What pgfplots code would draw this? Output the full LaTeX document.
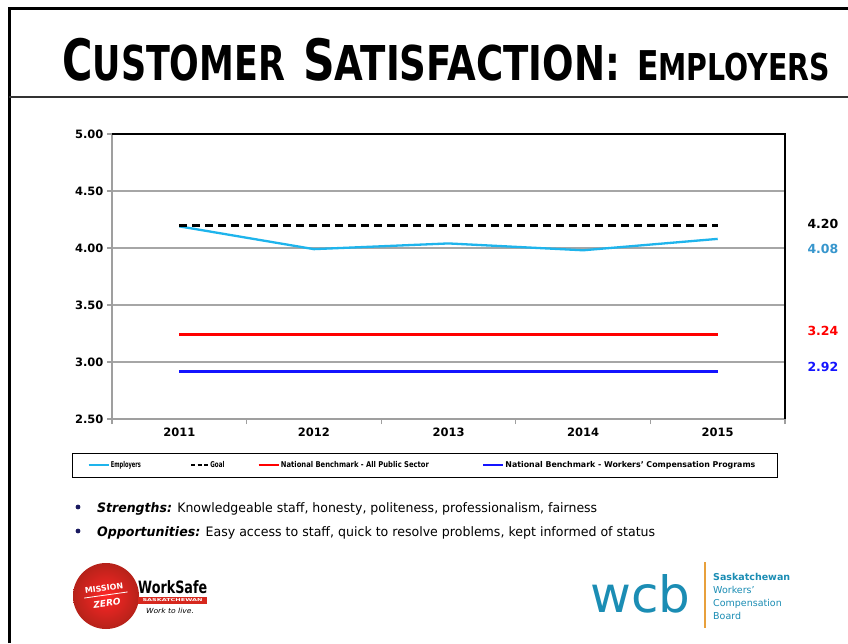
\documentclass[border=0pt]{standalone}
\usepackage{pgfplots}
\pgfplotsset{compat=1.18}
\usepackage{fontspec}
\setmainfont{DejaVu Sans}
\definecolor{empblue}{RGB}{30,180,236}
\definecolor{emplabel}{RGB}{55,150,205}
\definecolor{benchred}{RGB}{255,0,0}
\definecolor{benchblue}{RGB}{20,20,255}
\definecolor{navy}{RGB}{25,25,95}
\definecolor{wcbteal}{RGB}{27,141,180}
\definecolor{wcborange}{RGB}{232,160,60}
\definecolor{mzred}{RGB}{214,40,30}
\newcommand{\fs}[1]{\fontsize{#1}{#1}\selectfont}
\begin{document}
\begin{tikzpicture}[x=1pt,y=1pt]
\useasboundingbox (0,0) rectangle (848,643);
\fill[white] (0,0) rectangle (848,643);
% slide frame
\draw[line width=3pt] (9,0) -- (9,634) -- (848,634);
\draw[line width=1.2pt, black!80] (9,546) -- (848,546);
% title
\node[anchor=base west, inner sep=0] at (62,562) {\resizebox{223pt}{\height}{\bfseries\fs{57}C\fs{48}USTOMER}};
\node[anchor=base west, inner sep=0] at (303,562) {\resizebox{317pt}{\height}{\bfseries\fs{57}S\fs{48}ATISFACTION:}};
\node[anchor=base west, inner sep=0] at (637,562) {\resizebox{193pt}{\height}{\bfseries\fs{41}E\fs{37}MPLOYERS}};

\begin{axis}[
  at={(112pt,224pt)}, anchor=south west,
  scale only axis, width=673pt, height=285pt,
  xmin=2010.5, xmax=2015.5, ymin=2.5, ymax=5,
  enlargelimits=false,
  axis lines*=left,
  axis line style={draw=gray!75, line width=1.2pt},
  tick align=outside,
  major tick length=5pt,
  tick style={draw=gray!75, line width=1.2pt},
  xtick={2010.5,2011.5,2012.5,2013.5,2014.5,2015.5},
  xticklabels={2011,2012,2013,2014,2015},
  x tick label as interval,
  ytick={2.5,3,3.5,4,4.5,5},
  yticklabel style={/pgf/number format/fixed, /pgf/number format/fixed zerofill,
    /pgf/number format/precision=2, /pgf/number format/assume math mode=true},
  ticklabel style={font=\bfseries\fs{11.5}, text=black},
  ymajorgrids, grid style={draw=gray!70, line width=1.2pt},
  clip=false,
  legend style={at={(-0.0594,-0.1614)}, anchor=west, draw=black, line width=0.8pt,
    legend columns=4, column sep=0pt, inner xsep=15pt, inner ysep=7pt,
    font=\bfseries\fs{8}, nodes={inner sep=1pt, minimum height=10pt}},
  legend image code/.code={\draw[#1, line width=2.5pt] (0pt,0pt) -- (20pt,0pt);},
]
\addplot[empblue, line width=2.3pt] coordinates {(2011,4.19)(2012,3.99)(2013,4.04)(2014,3.98)(2015,4.08)};
\addlegendentry{\makebox[78pt][l]{\resizebox{30pt}{\height}{Employers}}}
\addplot[black, line width=2.8pt, dash pattern=on 8pt off 5pt,
  legend image code/.code={\draw[black, line width=2.5pt, dash pattern=on 4pt off 2.5pt] (0pt,0pt) -- (17pt,0pt);}]
  coordinates {(2011,4.20)(2012,4.20)(2013,4.20)(2014,4.20)(2015,4.20)};
\addlegendentry{\makebox[46pt][l]{\resizebox{14pt}{\height}{Goal}}}
\addplot[benchred, line width=2.8pt] coordinates {(2011,3.24)(2012,3.24)(2013,3.24)(2014,3.24)(2015,3.24)};
\addlegendentry{\makebox[200pt][l]{\resizebox{148pt}{\height}{National Benchmark - All Public Sector}}}
\addplot[benchblue, line width=2.8pt] coordinates {(2011,2.92)(2012,2.92)(2013,2.92)(2014,2.92)(2015,2.92)};
\addlegendentry{\makebox[256pt][l]{\resizebox{250pt}{\height}{National Benchmark - Workers' Compensation Programs}}}
\draw[black, line width=1.2pt] (rel axis cs:0,1) -- (rel axis cs:1,1) -- (rel axis cs:1,0);
\end{axis}

% values at the right
\node[anchor=west, font=\bfseries\fs{12.5}, text=black] at (804,419) {4.20};
\node[anchor=west, font=\bfseries\fs{12.5}, text=emplabel] at (804,394) {4.08};
\node[anchor=west, font=\bfseries\fs{12.5}, text=benchred] at (804,312) {3.24};
\node[anchor=west, font=\bfseries\fs{12.5}, text=benchblue] at (804,276) {2.92};

% bullets
\fill[navy] (78,136) circle (2.4);
\fill[navy] (78,112) circle (2.4);
\node[anchor=base west, inner sep=0] at (97,131) {\resizebox{500pt}{\height}{\fs{13}\textbf{\textit{Strengths:}} Knowledgeable staff, honesty, politeness, professionalism, fairness}};
\node[anchor=base west, inner sep=0] at (97,107) {\resizebox{558pt}{\height}{\fs{13}\textbf{\textit{Opportunities:}} Easy access to staff, quick to resolve problems, kept informed of status}};

% Mission Zero / WorkSafe logo
\shade[inner color=red!85!white, outer color=mzred!85!black] (106,47) circle (33);
\node[rotate=8, text=white, font=\bfseries\fs{8}] at (104,55) {MISSION};
\draw[white, line width=0.8pt, rotate around={8:(106,47)}] (84,48) -- (128,48);
\node[rotate=8, text=white, font=\bfseries\itshape\fs{9}] at (107,40) {ZERO};
\node[anchor=base west, inner sep=0] at (138,50) {\resizebox{69pt}{\height}{\bfseries\fs{17}WorkSafe}};
\fill[mzred] (138,39) rectangle (207,46);
\node[text=white, inner sep=0] at (172.5,42.5) {\resizebox{60pt}{\height}{\bfseries\fs{4}SASKATCHEWAN}};
\node[inner sep=0] at (170,32) {\resizebox{48pt}{\height}{\itshape\fs{7}Work to live.}};

% WCB logo
\node[anchor=base west, inner sep=0, text=wcbteal] at (590,31) {\resizebox{100pt}{\height}{\fs{50}wcb}};
\draw[wcborange, line width=2pt] (705,81) -- (705,15);
\node[anchor=north west, inner sep=0, text=wcbteal, align=left, font=\fontsize{9.5}{13}\selectfont]
  at (713,70) {\textbf{Saskatchewan}\\Workers’\\Compensation\\Board};
\end{tikzpicture}
\end{document}
